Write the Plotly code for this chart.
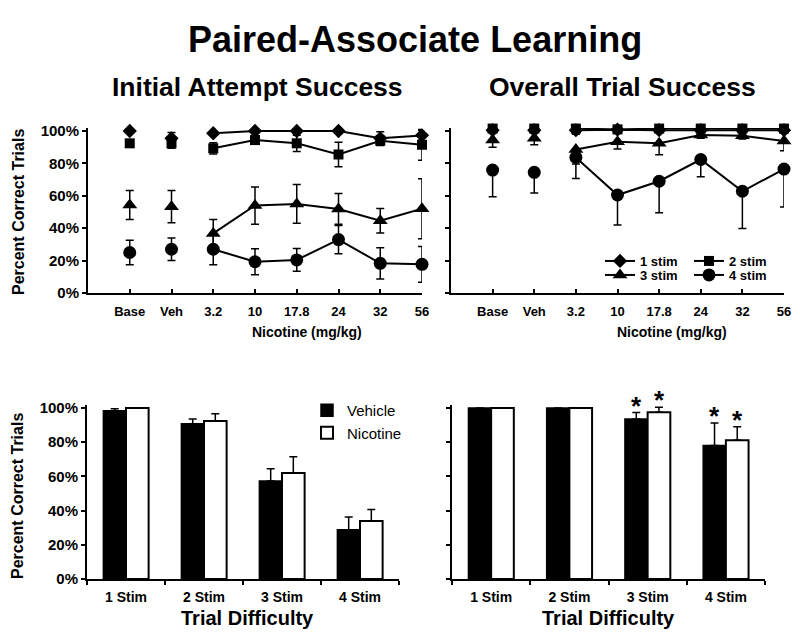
import plotly.graph_objects as go

# ---------------- data ----------------
dose_labels = ["Base", "Veh", "3.2", "10", "17.8", "24", "32", "56"]
series_names = ["1 stim", "2 stim", "3 stim", "4 stim"]

# Initial Attempt Success (mean, sem)
init_1 = [100, 95.5, 98.6, 100, 100, 100, 95.5, 97.3]
init_1_err = [0, 3.5, 0, 0, 0, 0, 4, 3]
init_2 = [92.4, 92.4, 89.3, 94.4, 92.4, 85.5, 94, 91.5]
init_2_err = [2, 3, 3.5, 2.5, 5, 7.5, 3, 9.5]
init_3 = [54.3, 53.3, 36.8, 54, 55, 51.9, 44.6, 52]
init_3_err = [9, 10, 8.5, 11.5, 12, 9.5, 7.5, 18.5]
init_4 = [25, 27, 27, 19.3, 20.4, 33, 18.3, 17.7]
init_4_err = [7.5, 7, 9.5, 8, 7, 8.7, 9.7, 11]

# Overall Trial Success (mean, lower sem)
over_1 = [100.5, 100.5, 100.5, 100.8, 100.5, 100.5, 100.5, 100.5]
over_1_err = [0, 0, 0, 0, 0, 0, 0, 0]
over_2 = [101.5, 101.5, 101.5, 101, 101.5, 101.5, 101.5, 101.5]
over_2_err = [2, 1.5, 3.5, 0, 0, 0, 0, 0]
over_3 = [94.4, 95.5, 88.6, 93.4, 92.4, 97.5, 97.1, 93.8]
over_3_err = [4.5, 4, 9, 4.5, 7, 2, 2, 6]
over_4 = [75.9, 74.5, 83.7, 60.5, 69, 82.4, 62.8, 76.5]
over_4_err = [16.5, 12.8, 13, 18.5, 19.4, 10.6, 23, 23.4]

difficulty = ["1 Stim", "2 Stim", "3 Stim", "4 Stim"]
bar_names = ["Vehicle", "Nicotine"]
init_veh = [98.4, 90.8, 57.3, 28.8]
init_veh_err = [1.2, 2.8, 7.2, 7.5]
init_nic = [100, 92.4, 62, 33.9]
init_nic_err = [0, 4.3, 9.5, 6.8]
over_veh = [100, 100, 93.6, 78]
over_veh_err = [0, 0, 3.7, 13.2]
over_nic = [100, 100, 97.5, 81.1]
over_nic_err = [0, 0, 2.9, 8]
sig_veh = [False, False, True, True]
sig_nic = [False, False, True, True]

y_tickvals = [0, 20, 40, 60, 80, 100]
y_ticktext = ["0%", "20%", "40%", "60%", "80%", "100%"]

# ---------------- style ----------------
FONT = "Arial, 'Liberation Sans', sans-serif"
symbols = ["diamond", "square", "triangle-up", "circle"]
msizes = [11, 10, 13, 13]
legend_ids = ["legend", "legend2", "legend3", "legend4"]
YMAX = 101.8

fig = go.Figure()

init_vals = [init_1, init_2, init_3, init_4]
init_errs = [init_1_err, init_2_err, init_3_err, init_4_err]
over_vals = [over_1, over_2, over_3, over_4]
over_errs = [over_1_err, over_2_err, over_3_err, over_4_err]

draw_order = [3, 2, 0, 1]
for i in draw_order:
    for panel, (vals, errs) in enumerate([(init_vals[i], init_errs[i]), (over_vals[i], over_errs[i])]):
        xa = "x" if panel == 0 else "x2"
        ya = "y" if panel == 0 else "y2"
        if panel == 0:
            eb_pts = dict(type="data", array=errs[:2], visible=True, color="black", thickness=1.5, width=4)
            eb_line = dict(type="data", array=errs[2:], visible=True, color="black", thickness=1.5, width=4)
        else:
            eb_pts = dict(type="data", symmetric=False, array=[0] * 2, arrayminus=errs[:2],
                          visible=True, color="black", thickness=1.5, width=4)
            eb_line = dict(type="data", symmetric=False, array=[0] * 6, arrayminus=errs[2:],
                           visible=True, color="black", thickness=1.5, width=4)
        fig.add_trace(go.Scatter(
            x=dose_labels[:2], y=vals[:2], mode="markers", xaxis=xa, yaxis=ya,
            marker=dict(symbol=symbols[i], size=msizes[i], color="black"),
            error_y=eb_pts, showlegend=False, cliponaxis=False))
        fig.add_trace(go.Scatter(
            x=dose_labels[2:], y=vals[2:], mode="lines+markers", xaxis=xa, yaxis=ya,
            name=series_names[i], legend=legend_ids[i],
            marker=dict(symbol=symbols[i], size=msizes[i], color="black"),
            line=dict(color="black", width=2),
            error_y=eb_line, showlegend=(panel == 1), cliponaxis=False))

# bars
for panel, (veh, veh_e, nic, nic_e) in enumerate([
        (init_veh, init_veh_err, init_nic, init_nic_err),
        (over_veh, over_veh_err, over_nic, over_nic_err)]):
    xa = "x3" if panel == 0 else "x4"
    ya = "y3" if panel == 0 else "y4"
    fig.add_trace(go.Bar(
        x=difficulty, y=veh, name=bar_names[0], xaxis=xa, yaxis=ya,
        marker=dict(color="black", line=dict(color="black", width=1.5)),
        error_y=dict(type="data", symmetric=False, array=veh_e, arrayminus=[0] * 4,
                     color="black", thickness=1.5, width=4),
        legend="legend5", showlegend=(panel == 0), cliponaxis=False))
    fig.add_trace(go.Bar(
        x=difficulty, y=nic, name=bar_names[1], xaxis=xa, yaxis=ya,
        marker=dict(color="white", line=dict(color="black", width=2)),
        error_y=dict(type="data", symmetric=False, array=nic_e, arrayminus=[0] * 4,
                     color="black", thickness=1.5, width=4),
        legend="legend5", showlegend=(panel == 0), cliponaxis=False))

# ---------------- axes ----------------
H = 643.0
W = 800.0
xdom = {1: [88 / W, 422 / W], 2: [451 / W, 784 / W], 3: [87 / W, 399 / W], 4: [452 / W, 765 / W]}
def ydom(y0px, y100px):
    top_px = y0px - (y0px - y100px) * YMAX / 100
    return [1 - y0px / H, 1 - top_px / H]
ydom_top = ydom(293, 131)
ydom_bot = ydom(579, 408)

def yax(dom, labels):
    return dict(domain=dom, range=[0, YMAX], tickvals=y_tickvals, ticktext=y_ticktext,
                showticklabels=labels, showline=True, linecolor="black", linewidth=2,
                ticks="outside", ticklen=4, tickwidth=2, tickcolor="black",
                showgrid=False, zeroline=False,
                tickfont=dict(family=FONT, size=15, color="black", weight="bold"))

def xax_top(dom, anchor):
    return dict(domain=dom, anchor=anchor, type="category", range=[-1, 7],
                categoryorder="array", categoryarray=dose_labels,
                showline=True, linecolor="black", linewidth=2,
                ticks="inside", ticklen=4, tickwidth=2, tickcolor="black",
                showgrid=False, zeroline=False, ticklabelstandoff=5,
                tickfont=dict(family=FONT, size=13, color="black", weight="bold"))

def xax_bot(dom, anchor):
    return dict(domain=dom, anchor=anchor, type="category", range=[-0.5, 3.5],
                tickson="boundaries",
                showline=True, linecolor="black", linewidth=2,
                ticks="outside", ticklen=4, tickwidth=2, tickcolor="black",
                showgrid=False, zeroline=False, ticklabelstandoff=4,
                tickfont=dict(family=FONT, size=14, color="black", weight="bold"))

fig.update_layout(
    width=800, height=643, margin=dict(l=0, r=0, t=0, b=0, autoexpand=False),
    paper_bgcolor="white", plot_bgcolor="white",
    barmode="group", bargap=0.42, bargroupgap=0,
    xaxis=xax_top(xdom[1], "y"), yaxis=yax(ydom_top, True) | dict(anchor="x"),
    xaxis2=xax_top(xdom[2], "y2"), yaxis2=yax(ydom_top, False) | dict(anchor="x2"),
    xaxis3=xax_bot(xdom[3], "y3"), yaxis3=yax(ydom_bot, True) | dict(anchor="x3"),
    xaxis4=xax_bot(xdom[4], "y4"), yaxis4=yax(ydom_bot, False) | dict(anchor="x4"),
)

leg_font = dict(family=FONT, size=13, color="black", weight="bold")
leg_pos = {"legend": (600 / W, 1 - 261 / H), "legend2": (689 / W, 1 - 261 / H),
           "legend3": (600 / W, 1 - 275 / H), "legend4": (689 / W, 1 - 275 / H)}
for lid, (lx, ly) in leg_pos.items():
    fig.update_layout({lid: dict(x=lx, y=ly, xanchor="left", yanchor="middle",
                                 bgcolor="rgba(0,0,0,0)", font=leg_font,
                                 itemwidth=30, tracegroupgap=0)})
fig.update_layout(legend5=dict(x=307 / W, y=1 - 394 / H, xanchor="left", yanchor="top",
                               bgcolor="rgba(0,0,0,0)", tracegroupgap=0, itemwidth=30,
                               font=dict(family=FONT, size=15, color="black")))

# ---------------- text ----------------
ann = []
ann.append(dict(text="Paired-Associate Learning", x=415 / W, y=1 - 40 / H,
                font=dict(family=FONT, size=36, color="black", weight="bold")))
ann.append(dict(text="Initial Attempt Success", x=257 / W, y=1 - 87 / H,
                font=dict(family=FONT, size=26.5, color="black", weight="bold")))
ann.append(dict(text="Overall Trial Success", x=622 / W, y=1 - 87 / H,
                font=dict(family=FONT, size=26.5, color="black", weight="bold")))
for xc in [307, 672]:
    ann.append(dict(text="Nicotine (mg/kg)", x=xc / W, y=1 - 332 / H,
                    font=dict(family=FONT, size=14, color="black", weight="bold")))
for xc in [247, 608]:
    ann.append(dict(text="Trial Difficulty", x=xc / W, y=1 - 618 / H,
                    font=dict(family=FONT, size=20, color="black", weight="bold")))
for yc in [212, 496]:
    ann.append(dict(text="Percent Correct Trials", x=18 / W, y=1 - yc / H, textangle=-90,
                    font=dict(family=FONT, size=16, color="black", weight="bold")))
for a in ann:
    a.update(xref="paper", yref="paper", showarrow=False, xanchor="center", yanchor="middle")

# significance asterisks
for cat, v, e, s in zip(difficulty, over_veh, over_veh_err, sig_veh):
    if s:
        ann.append(dict(text="*", x=cat, y=v + e, xref="x4", yref="y4", xshift=-11.5, yshift=-10,
                        showarrow=False, yanchor="bottom",
                        font=dict(family=FONT, size=26, color="black", weight="bold")))
for cat, v, e, s in zip(difficulty, over_nic, over_nic_err, sig_nic):
    if s:
        ann.append(dict(text="*", x=cat, y=v + e, xref="x4", yref="y4", xshift=11.5, yshift=-10,
                        showarrow=False, yanchor="bottom",
                        font=dict(family=FONT, size=26, color="black", weight="bold")))
fig.update_layout(annotations=ann)

fig.write_html("out.html", config={"displayModeBar": False},
               post_script="document.body.style.margin='0';")
